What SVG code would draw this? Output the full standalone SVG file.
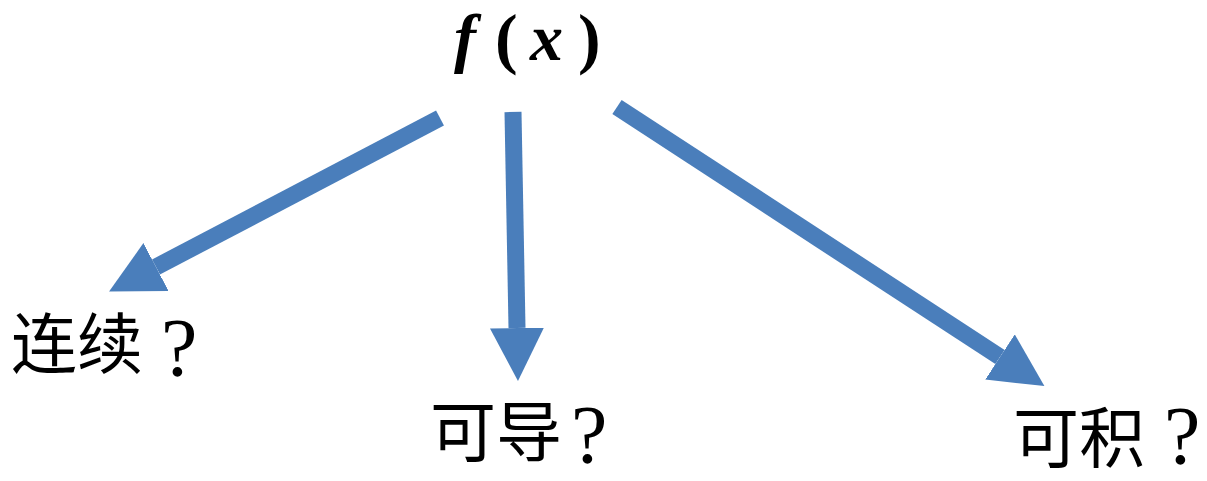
<svg xmlns="http://www.w3.org/2000/svg" width="1207" height="481" viewBox="0 0 1207 481">
<style>
.arr{stroke:#4A7EBB;stroke-width:17;fill:none;marker-end:url(#head)}
.m{font-family:"Liberation Serif","Times New Roman",serif;font-weight:bold;font-size:66px;fill:#000}
.i{font-style:italic}
.p{font-size:68px}
.cjk{font-family:"Noto Sans CJK SC",sans-serif;font-size:66px;fill:#000}
.q{font-family:"Liberation Serif","Times New Roman",serif;font-size:82px;fill:#000}
</style>
<defs>
<marker id="head" markerUnits="userSpaceOnUse" markerWidth="60" markerHeight="60" refX="0" refY="27" orient="auto" viewBox="0 0 60 60">
<path d="M0,0 L53,27 L0,54 Z" fill="#4A7EBB"/>
</marker>
</defs>
<g id="fx">
<text class="m i" x="454" y="60">f</text>
<text class="m p" x="495" y="61">(</text>
<text class="m i" x="530" y="60">x</text>
<text class="m p" x="578" y="61">)</text>
</g>
<g id="connectors">
<line class="arr" x1="440" y1="118" x2="156" y2="267"/>
<line class="arr" x1="513" y1="112" x2="517" y2="328"/>
<line class="arr" x1="617" y1="107" x2="1000" y2="357"/>
</g>
<g id="lianxu"><text class="cjk" x="11" y="368">连续</text><text class="q" x="161" y="375">?</text></g>
<g id="kedao"><text class="cjk" x="430" y="456">可导</text><text class="q" x="571" y="462">?</text></g>
<g id="keji"><text class="cjk" x="1013" y="462">可积</text><text class="q" x="1164" y="463">?</text></g>
</svg>
